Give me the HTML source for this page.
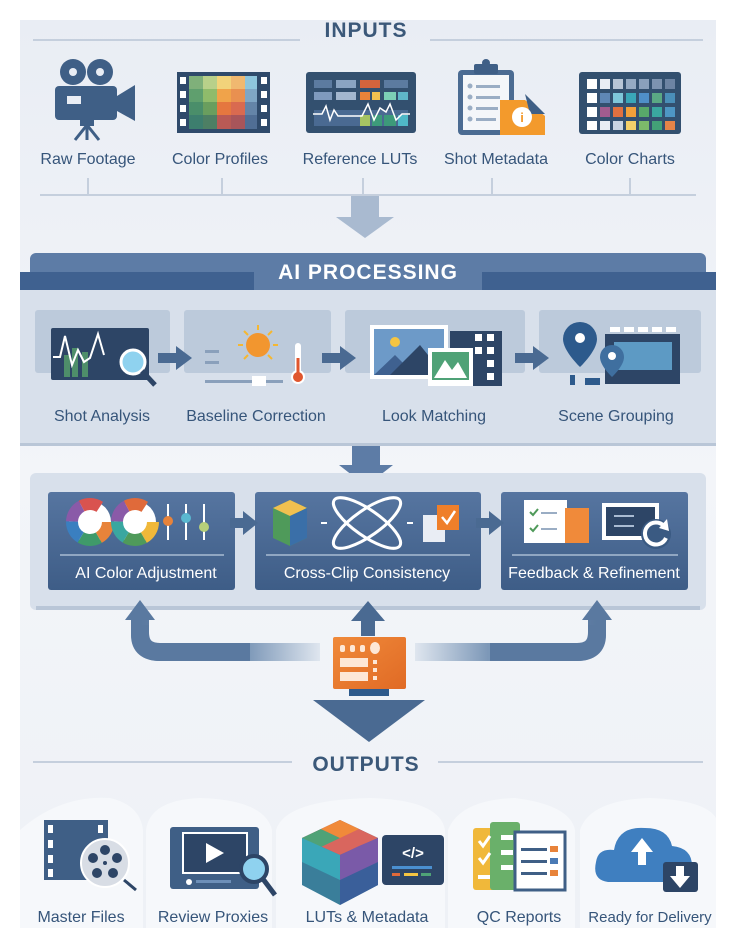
<!DOCTYPE html>
<html><head><meta charset="utf-8"><style>
html,body{margin:0;padding:0;background:#fff}
svg{display:block}
text{font-family:"Liberation Sans",sans-serif}
</style></head><body>
<svg width="736" height="947" viewBox="0 0 736 947" xmlns="http://www.w3.org/2000/svg">
<defs>
<linearGradient id="bg" x1="0" y1="0" x2="0" y2="1"><stop offset="0" stop-color="#e9edf4"/><stop offset=".5" stop-color="#f3f5f9"/><stop offset="1" stop-color="#eef1f6"/></linearGradient>
<linearGradient id="fadeL" x1="0" x2="1"><stop offset="0" stop-color="#5a79a0"/><stop offset=".6" stop-color="#7d98b8"/><stop offset="1" stop-color="#dfe6ef"/></linearGradient>
<linearGradient id="fadeR" x1="1" x2="0"><stop offset="0" stop-color="#5a79a0"/><stop offset=".6" stop-color="#7d98b8"/><stop offset="1" stop-color="#dfe6ef"/></linearGradient>
<linearGradient id="card" x1="0" y1="0" x2="0" y2="1"><stop offset="0" stop-color="#5675a0"/><stop offset="1" stop-color="#3e5d87"/></linearGradient>
<linearGradient id="orange" x1="0" y1="0" x2="1" y2="1"><stop offset="0" stop-color="#f08a3a"/><stop offset="1" stop-color="#e06a25"/></linearGradient>
</defs>
<rect x="20" y="20" width="696" height="908" fill="url(#bg)"/>

<!-- INPUTS -->
<line x1="33" y1="40" x2="300" y2="40" stroke="#c5cfdd" stroke-width="2"/>
<line x1="430" y1="40" x2="703" y2="40" stroke="#c5cfdd" stroke-width="2"/>
<text x="366" y="37" text-anchor="middle" font-size="21" font-weight="bold" fill="#3b5879" letter-spacing="1">INPUTS</text>

<!-- camera -->
<g fill="#3f5f86">
<circle cx="73" cy="72" r="13"/><circle cx="100" cy="72" r="13"/>
<rect x="55" y="86" width="62" height="34" rx="4"/>
<polygon points="117,96 135,85 135,121 117,111"/>
<rect x="80" y="120" width="14" height="6"/>
<line x1="87" y1="125" x2="75" y2="140" stroke="#3f5f86" stroke-width="3"/>
<line x1="87" y1="125" x2="99" y2="140" stroke="#3f5f86" stroke-width="3"/>
<line x1="87" y1="125" x2="87" y2="140" stroke="#3f5f86" stroke-width="3"/>
</g>
<circle cx="73" cy="72" r="4" fill="#e9edf4"/><circle cx="100" cy="72" r="4" fill="#e9edf4"/>
<rect x="67" y="96" width="14" height="8" fill="#e9edf4"/>
<!-- color profiles -->
<rect x="177" y="72" width="93" height="61" fill="#2f4a6b"/>
<g>
<rect x="189" y="76" width="14" height="13" fill="#7fb07a"/><rect x="203" y="76" width="14" height="13" fill="#b8d08a"/><rect x="217" y="76" width="14" height="13" fill="#f2d37a"/><rect x="231" y="76" width="14" height="13" fill="#f0b870"/><rect x="245" y="76" width="12" height="13" fill="#8ec5dc"/>
<rect x="189" y="89" width="14" height="13" fill="#5f9f6e"/><rect x="203" y="89" width="14" height="13" fill="#8fbb6b"/><rect x="217" y="89" width="14" height="13" fill="#f0a34a"/><rect x="231" y="89" width="14" height="13" fill="#e99050"/><rect x="245" y="89" width="12" height="13" fill="#7fa6c5"/>
<rect x="189" y="102" width="14" height="13" fill="#4a8e6a"/><rect x="203" y="102" width="14" height="13" fill="#6a9e5e"/><rect x="217" y="102" width="14" height="13" fill="#e5773f"/><rect x="231" y="102" width="14" height="13" fill="#d96a50"/><rect x="245" y="102" width="12" height="13" fill="#6484a8"/>
<rect x="189" y="115" width="14" height="14" fill="#3d7e6e"/><rect x="203" y="115" width="14" height="14" fill="#4d7f64"/><rect x="217" y="115" width="14" height="14" fill="#b85a55"/><rect x="231" y="115" width="14" height="14" fill="#a8555a"/><rect x="245" y="115" width="12" height="14" fill="#506e95"/>
</g>
<g fill="#fff"><rect x="180" y="77" width="6" height="7"/><rect x="180" y="91" width="6" height="7"/><rect x="180" y="105" width="6" height="7"/><rect x="180" y="119" width="6" height="7"/><rect x="261" y="77" width="6" height="7"/><rect x="261" y="91" width="6" height="7"/><rect x="261" y="105" width="6" height="7"/><rect x="261" y="119" width="6" height="7"/></g>
<!-- reference LUTs -->
<rect x="306" y="72" width="110" height="61" rx="3" fill="#33506f"/>
<g>
<rect x="314" y="80" width="18" height="8" fill="#5c7ba0"/><rect x="336" y="80" width="20" height="8" fill="#8aa4c2"/><rect x="360" y="80" width="20" height="8" fill="#d4643d"/><rect x="384" y="80" width="24" height="8" fill="#5c7ba0"/>
<rect x="314" y="92" width="18" height="8" fill="#7f9abd"/><rect x="336" y="92" width="20" height="8" fill="#a3b7cf"/><rect x="360" y="92" width="10" height="8" fill="#e8833a"/><rect x="372" y="92" width="8" height="8" fill="#f0c050"/><rect x="384" y="92" width="12" height="8" fill="#7ccfb6"/><rect x="398" y="92" width="10" height="8" fill="#5fb6c9"/>
<rect x="314" y="110" width="94" height="16" fill="#4a6a92"/><rect x="360" y="115" width="10" height="11" fill="#a5c463"/><rect x="372" y="115" width="10" height="11" fill="#3d9a7a"/><rect x="384" y="115" width="12" height="11" fill="#3d9a7a"/><rect x="398" y="115" width="10" height="11" fill="#4fb8c8"/>
</g>
<polyline points="313,114 322,114 326,106 330,120 334,110 338,116 362,116 368,104 374,120 380,108 386,112 390,104 396,120 402,114 410,114" fill="none" stroke="#fff" stroke-width="1.5"/>
<!-- shot metadata -->
<rect x="458" y="70" width="56" height="65" rx="4" fill="#4b6b92"/>
<rect x="463" y="75" width="46" height="55" fill="#f4f6f9"/>
<rect x="474" y="64" width="24" height="10" rx="2" fill="#3f5f86"/><circle cx="486" cy="63" r="4" fill="#3f5f86"/>
<g fill="#9aadc4"><circle cx="470" cy="86" r="2.5"/><circle cx="470" cy="97" r="2.5"/><circle cx="470" cy="108" r="2.5"/><circle cx="470" cy="119" r="2.5"/><rect x="476" y="85" width="24" height="3"/><rect x="476" y="96" width="24" height="3"/><rect x="476" y="107" width="22" height="3"/><rect x="476" y="118" width="20" height="3"/></g>
<polygon points="500,100 525,100 545,116 545,135 500,135" fill="#f39a2c"/>
<polygon points="525,94 545,114 530,114" fill="#3f5f86"/>
<circle cx="522" cy="117" r="10" fill="#fff"/>
<text x="522" y="122" text-anchor="middle" font-size="13" font-weight="bold" fill="#f39a2c">i</text>
<!-- color charts -->
<rect x="579" y="72" width="102" height="62" rx="3" fill="#33506f"/>
<g>
<rect x="587" y="79" width="10" height="10" fill="#fff"/><rect x="600" y="79" width="10" height="10" fill="#e9edf4"/><rect x="613" y="79" width="10" height="10" fill="#b7c5d6"/><rect x="626" y="79" width="10" height="10" fill="#95aac3"/><rect x="639" y="79" width="10" height="10" fill="#8aa0bb"/><rect x="652" y="79" width="10" height="10" fill="#7d93b0"/><rect x="665" y="79" width="10" height="10" fill="#6d84a3"/>
<rect x="587" y="93" width="10" height="10" fill="#fff"/><rect x="600" y="93" width="10" height="10" fill="#5f87b5"/><rect x="613" y="93" width="10" height="10" fill="#7fc7da"/><rect x="626" y="93" width="10" height="10" fill="#3aa7b8"/><rect x="639" y="93" width="10" height="10" fill="#4f8fc8"/><rect x="652" y="93" width="10" height="10" fill="#5aa884"/><rect x="665" y="93" width="10" height="10" fill="#4a8fb9"/>
<rect x="587" y="107" width="10" height="10" fill="#fff"/><rect x="600" y="107" width="10" height="10" fill="#a25c8f"/><rect x="613" y="107" width="10" height="10" fill="#e07140"/><rect x="626" y="107" width="10" height="10" fill="#f2a03a"/><rect x="639" y="107" width="10" height="10" fill="#58a86a"/><rect x="652" y="107" width="10" height="10" fill="#3aa7a0"/><rect x="665" y="107" width="10" height="10" fill="#4e96c4"/>
<rect x="587" y="121" width="10" height="9" fill="#fff"/><rect x="600" y="121" width="10" height="9" fill="#e9edf4"/><rect x="613" y="121" width="10" height="9" fill="#c9d4e2"/><rect x="626" y="121" width="10" height="9" fill="#f3d06a"/><rect x="639" y="121" width="10" height="9" fill="#7cb96a"/><rect x="652" y="121" width="10" height="9" fill="#43a177"/><rect x="665" y="121" width="10" height="9" fill="#e58448"/>
</g>
<g font-size="16" fill="#36557a" text-anchor="middle">
<text x="88" y="164">Raw Footage</text><text x="220" y="164">Color Profiles</text><text x="360" y="164">Reference LUTs</text><text x="496" y="164">Shot Metadata</text><text x="630" y="164">Color Charts</text>
</g>
<g stroke="#c5cfdd" stroke-width="2"><line x1="40" y1="195" x2="696" y2="195"/><line x1="88" y1="178" x2="88" y2="195"/><line x1="222" y1="178" x2="222" y2="195"/><line x1="363" y1="178" x2="363" y2="195"/><line x1="492" y1="178" x2="492" y2="195"/><line x1="630" y1="178" x2="630" y2="195"/></g>
<polygon points="351,196 379,196 379,217 394,217 365,238 336,217 351,217" fill="#a9bad0"/>

<!-- AI PROCESSING -->
<rect x="30" y="253" width="676" height="30" rx="6" fill="#5d7ca6"/>
<rect x="20" y="272" width="696" height="18" fill="#3f6190"/>
<rect x="254" y="262" width="228" height="28" fill="#5d7ca6"/>
<text x="368" y="279" text-anchor="middle" font-size="21" font-weight="bold" fill="#fff" letter-spacing="1">AI PROCESSING</text>
<rect x="20" y="290" width="696" height="155" fill="#d8e0eb"/>
<rect x="20" y="443" width="696" height="3" fill="#b9c6d7"/>
<g fill="#bccadb">
<rect x="35" y="310" width="135" height="63" rx="3"/><rect x="184" y="310" width="147" height="63" rx="3"/><rect x="345" y="310" width="180" height="63" rx="3"/><rect x="539" y="310" width="162" height="63" rx="3"/>
</g>
<!-- shot analysis icon -->
<rect x="51" y="328" width="98" height="52" rx="2" fill="#2d4566"/>
<rect x="64" y="355" width="6" height="22" fill="#4e8e6a"/><rect x="72" y="348" width="6" height="29" fill="#4e8e6a"/><rect x="82" y="352" width="6" height="25" fill="#4e8e6a"/>
<polyline points="53,357 60,357 65,336 72,365 78,350 84,362 90,358 98,334 104,355" fill="none" stroke="#fff" stroke-width="2"/>
<circle cx="133" cy="362" r="12" fill="#8fd2ef" stroke="#fff" stroke-width="3"/>
<line x1="142" y1="371" x2="155" y2="385" stroke="#2d4566" stroke-width="5"/>
<!-- baseline -->
<circle cx="258" cy="345" r="12" fill="#f2962f"/>
<g stroke="#f5b731" stroke-width="2"><line x1="258" y1="325" x2="258" y2="330"/><line x1="238" y1="345" x2="243" y2="345"/><line x1="273" y1="345" x2="278" y2="345"/><line x1="244" y1="331" x2="248" y2="335"/><line x1="272" y1="331" x2="268" y2="335"/><line x1="244" y1="359" x2="248" y2="355"/><line x1="272" y1="359" x2="268" y2="355"/></g>
<g fill="#8aa0bb"><rect x="205" y="350" width="14" height="3"/><rect x="205" y="361" width="14" height="3"/><rect x="205" y="380" width="78" height="3"/></g>
<rect x="252" y="376" width="14" height="10" fill="#fff"/>
<rect x="295" y="343" width="6" height="30" rx="3" fill="#fff"/><circle cx="298" cy="377" r="7" fill="#fff"/><circle cx="298" cy="377" r="5" fill="#e0562e"/><rect x="296.5" y="358" width="3" height="18" fill="#e0562e"/>
<!-- look matching -->
<rect x="450" y="331" width="52" height="55" fill="#2d4566"/>
<g fill="#fff"><rect x="475" y="334" width="7" height="7"/><rect x="487" y="334" width="7" height="7"/><rect x="475" y="347" width="7" height="7"/><rect x="487" y="347" width="7" height="7"/><rect x="487" y="360" width="7" height="7"/><rect x="487" y="373" width="7" height="7"/></g>
<rect x="370" y="325" width="78" height="54" fill="#fff"/>
<rect x="374" y="329" width="70" height="46" fill="#6d9ac8"/>
<polygon points="374,375 395,355 415,375" fill="#3f6190"/><polygon points="390,375 420,345 444,375" fill="#2d4566"/>
<circle cx="395" cy="342" r="5" fill="#f5c542"/>
<rect x="428" y="348" width="45" height="38" fill="#fff"/>
<rect x="432" y="352" width="37" height="28" fill="#4fa277"/>
<polygon points="434,378 445,360 452,370 458,362 467,378" fill="#fff"/>
<!-- scene grouping -->
<rect x="605" y="334" width="75" height="50" fill="#2d4566"/>
<rect x="614" y="342" width="58" height="28" fill="#5d9ac4"/>
<g fill="#fff"><rect x="610" y="327" width="10" height="5"/><rect x="624" y="327" width="10" height="5"/><rect x="638" y="327" width="10" height="5"/><rect x="652" y="327" width="10" height="5"/><rect x="666" y="327" width="10" height="5"/></g>
<path d="M580 322 a17 17 0 0 1 17 17 c0 12 -17 28 -17 28 c0 0 -17 -16 -17 -28 a17 17 0 0 1 17 -17z" fill="#2d5a8c"/>
<circle cx="580" cy="338" r="5" fill="#fff"/>
<path d="M612 345 a12 12 0 0 1 12 12 c0 9 -12 20 -12 20 c0 0 -12 -11 -12 -20 a12 12 0 0 1 12 -12z" fill="#3f6f9f"/>
<circle cx="612" cy="356" r="4" fill="#fff"/>
<g fill="#2d5a8c"><rect x="570" y="375" width="5" height="10"/><rect x="585" y="378" width="15" height="7"/></g>
<!-- arrows row 1 -->
<g fill="#4a6a92">
<polygon points="158,353 176,353 176,346 192,358 176,370 176,363 158,363"/>
<polygon points="322,353 340,353 340,346 356,358 340,370 340,363 322,363"/>
<polygon points="515,353 533,353 533,346 549,358 533,370 533,363 515,363"/>
</g>
<g font-size="16" fill="#36557a" text-anchor="middle">
<text x="102" y="421">Shot Analysis</text><text x="256" y="421">Baseline Correction</text><text x="434" y="421">Look Matching</text><text x="616" y="421">Scene Grouping</text>
</g>
<polygon points="352,446 380,446 380,465 393,465 366,486 339,465 352,465" fill="#5d7ca6"/>

<!-- second panel -->
<rect x="30" y="473" width="676" height="137" rx="6" fill="#d8e0eb"/>
<rect x="36" y="606" width="664" height="4" fill="#b9c6d7"/>
<rect x="48" y="492" width="187" height="98" rx="3" fill="url(#card)"/>
<rect x="255" y="492" width="226" height="98" rx="3" fill="url(#card)"/>
<rect x="501" y="492" width="187" height="98" rx="3" fill="url(#card)"/>
<g stroke="#a9bbd2" stroke-width="1.5"><line x1="60" y1="555" x2="224" y2="555"/><line x1="266" y1="555" x2="470" y2="555"/><line x1="512" y1="555" x2="678" y2="555"/></g>
<g font-size="16" fill="#fff" text-anchor="middle">
<text x="146" y="578">AI Color Adjustment</text><text x="367" y="578">Cross-Clip Consistency</text><text x="594" y="578">Feedback &amp; Refinement</text>
</g>
<!-- color wheels -->
<g>
<circle cx="90" cy="522" r="21" fill="#fff"/>
<circle cx="90" cy="522" r="18" fill="none" stroke="#e8833a" stroke-width="12" stroke-dasharray="19 95"/>
<circle cx="90" cy="522" r="18" fill="none" stroke="#3f9a6a" stroke-width="12" stroke-dasharray="0 19 19 95"/>
<circle cx="90" cy="522" r="18" fill="none" stroke="#3a7fc0" stroke-width="12" stroke-dasharray="0 38 19 95"/>
<circle cx="90" cy="522" r="18" fill="none" stroke="#8a5aa8" stroke-width="12" stroke-dasharray="0 57 19 95"/>
<circle cx="90" cy="522" r="18" fill="none" stroke="#d9534f" stroke-width="12" stroke-dasharray="0 76 19 95"/>
<circle cx="90" cy="522" r="5" fill="#fff"/>
<circle cx="135" cy="522" r="21" fill="#fff"/>
<circle cx="135" cy="522" r="18" fill="none" stroke="#f0b83a" stroke-width="12" stroke-dasharray="19 95"/>
<circle cx="135" cy="522" r="18" fill="none" stroke="#4f9a5a" stroke-width="12" stroke-dasharray="0 19 19 95"/>
<circle cx="135" cy="522" r="18" fill="none" stroke="#3aa7a0" stroke-width="12" stroke-dasharray="0 38 19 95"/>
<circle cx="135" cy="522" r="18" fill="none" stroke="#8a5aa8" stroke-width="12" stroke-dasharray="0 57 19 95"/>
<circle cx="135" cy="522" r="18" fill="none" stroke="#e06a3a" stroke-width="12" stroke-dasharray="0 76 19 95"/>
<circle cx="135" cy="522" r="5" fill="#fff"/>
<g stroke="#fff" stroke-width="2"><line x1="168" y1="504" x2="168" y2="540"/><line x1="186" y1="504" x2="186" y2="540"/><line x1="204" y1="504" x2="204" y2="540"/></g>
<circle cx="168" cy="521" r="5" fill="#e8833a"/><circle cx="186" cy="518" r="5" fill="#5ab8d0"/><circle cx="204" cy="527" r="5" fill="#b7d07a"/>
</g>
<!-- cross clip -->
<polygon points="273,508 290,500 307,508 307,538 290,546 273,538" fill="#4f9a5a"/>
<polygon points="273,508 290,500 307,508 290,516" fill="#f0c050"/>
<polygon points="290,516 307,508 307,538 290,546" fill="#3a6fa8"/>
<g stroke="#fff" stroke-width="2"><line x1="321" y1="523" x2="327" y2="523"/><line x1="407" y1="523" x2="413" y2="523"/></g>
<ellipse cx="367" cy="523" rx="40" ry="13" transform="rotate(35 367 523)" fill="none" stroke="#fff" stroke-width="3"/>
<ellipse cx="367" cy="523" rx="40" ry="13" transform="rotate(-35 367 523)" fill="none" stroke="#fff" stroke-width="3"/>
<rect x="423" y="515" width="22" height="27" fill="#e9edf4"/>
<rect x="437" y="505" width="22" height="25" fill="#ef7f2a"/>
<polyline points="442,517 447,523 455,511" fill="none" stroke="#fff" stroke-width="2.5"/>
<!-- feedback -->
<rect x="524" y="500" width="43" height="43" fill="#fff"/>
<rect x="565" y="508" width="24" height="35" fill="#f08a3a"/>
<g stroke="#4f9a5a" stroke-width="2" fill="none"><polyline points="530,512 533,515 538,509"/><polyline points="530,528 533,531 538,525"/></g>
<g fill="#9aadc4"><rect x="541" y="512" width="16" height="2"/><rect x="541" y="528" width="16" height="2"/></g>
<rect x="602" y="503" width="57" height="37" fill="#fff"/><rect x="606" y="507" width="49" height="29" fill="#2d4566"/>
<g fill="#a9bbd2"><rect x="614" y="515" width="20" height="2"/><rect x="614" y="525" width="20" height="2"/></g>
<circle cx="656" cy="534" r="15" fill="#3a5a82"/>
<path d="M664 526 a11 11 0 1 0 2 12" fill="none" stroke="#fff" stroke-width="4"/>
<polygon points="667,519 669,531 659,528" fill="#fff"/>
<!-- arrows row 2 -->
<g fill="#4a6a92">
<polygon points="230,518 243,518 243,511 258,523 243,535 243,528 230,528"/>
<polygon points="476,518 489,518 489,511 504,523 489,535 489,528 476,528"/>
</g>

<!-- feedback loop -->
<path d="M140 618 L140 632 Q140 652 160 652 L320 652" fill="none" stroke="url(#fadeL)" stroke-width="18"/>
<path d="M597 618 L597 632 Q597 652 577 652 L415 652" fill="none" stroke="url(#fadeR)" stroke-width="18"/>
<path d="M140 625 L140 635 Q140 652 160 652 L250 652" fill="none" stroke="#5a79a0" stroke-width="18"/>
<path d="M597 625 L597 635 Q597 652 577 652 L490 652" fill="none" stroke="#5a79a0" stroke-width="18"/>
<polygon points="125,620 140,600 155,620" fill="#5a79a0"/>
<polygon points="582,620 597,600 612,620" fill="#5a79a0"/>
<polygon points="351,621 368,601 385,621 375,621 375,636 361,636 361,621" fill="#4a6a92"/>
<rect x="334" y="733" width="0" height="0"/>
<rect x="349" y="686" width="40" height="10" fill="#2d5a8c"/>
<polygon points="313,700 425,700 369,742" fill="#4a6a92"/>
<rect x="333" y="637" width="73" height="52" rx="2" fill="url(#orange)"/>
<g fill="#fde7d6"><rect x="340" y="645" width="5" height="7" rx="2"/><rect x="350" y="645" width="5" height="7" rx="2"/><rect x="360" y="645" width="5" height="7" rx="2"/><ellipse cx="375" cy="648" rx="5" ry="6"/><rect x="340" y="658" width="28" height="9"/><rect x="340" y="672" width="28" height="9"/><rect x="373" y="660" width="4" height="4"/><rect x="373" y="668" width="4" height="4"/><rect x="373" y="676" width="4" height="4"/></g>

<!-- OUTPUTS -->
<line x1="33" y1="762" x2="292" y2="762" stroke="#c5cfdd" stroke-width="2"/>
<line x1="438" y1="762" x2="703" y2="762" stroke="#c5cfdd" stroke-width="2"/>
<text x="366" y="771" text-anchor="middle" font-size="21" font-weight="bold" fill="#3b5879" letter-spacing="1">OUTPUTS</text>
<g fill="#f6f8fb">
<path d="M20 928 L20 830 Q60 795 110 798 Q140 805 143 830 L143 928z"/>
<path d="M146 928 L146 830 Q150 800 200 798 Q265 800 272 830 L272 928z"/>
<path d="M276 928 L276 830 Q285 800 370 798 Q440 800 445 830 L445 928z"/>
<path d="M448 928 L448 830 Q460 800 515 798 Q570 805 575 830 L575 928z"/>
<path d="M580 928 L580 830 Q590 800 650 798 Q705 800 716 818 L716 928z"/>
</g>
<!-- master files -->
<rect x="44" y="820" width="64" height="60" fill="#3f5f86"/>
<g fill="#fff"><rect x="48" y="825" width="5" height="8"/><rect x="48" y="840" width="5" height="8"/><rect x="48" y="855" width="5" height="8"/><rect x="48" y="869" width="5" height="8"/><rect x="98" y="825" width="5" height="8"/></g>
<circle cx="105" cy="863" r="24" fill="#d8dde5" stroke="#fff" stroke-width="2"/>
<g fill="#2d4566"><circle cx="105" cy="850" r="5"/><circle cx="93" cy="858" r="5"/><circle cx="117" cy="858" r="5"/><circle cx="97" cy="873" r="5"/><circle cx="113" cy="873" r="5"/><circle cx="105" cy="863" r="2"/></g>
<line x1="124" y1="880" x2="136" y2="890" stroke="#2d4566" stroke-width="3"/>
<!-- review proxies -->
<rect x="170" y="827" width="89" height="62" rx="3" fill="#3f5f86"/>
<rect x="183" y="833" width="64" height="40" fill="#2d4566" stroke="#fff" stroke-width="2"/>
<polygon points="206,843 206,863 224,853" fill="#fff"/>
<circle cx="189" cy="882" r="3" fill="#fff"/><rect x="196" y="880" width="35" height="3" fill="#6d8fb8"/>
<circle cx="254" cy="869" r="13" fill="#8fd2ef" stroke="#2d4566" stroke-width="4"/>
<line x1="263" y1="879" x2="275" y2="895" stroke="#2d4566" stroke-width="5"/>
<!-- LUTs -->
<polygon points="302,838 340,820 378,838 378,885 340,905 302,885" fill="#3a7e9a"/>
<polygon points="302,838 340,820 378,838 340,855" fill="#d9665e"/>
<polygon points="302,838 321,829 340,838 321,847" fill="#4fa277"/>
<polygon points="321,829 340,820 359,829 340,838" fill="#f08a3a"/>
<polygon points="340,855 378,838 378,885 340,905" fill="#3a5f9a"/>
<polygon points="340,855 359,846 378,838 378,862 340,880" fill="#7a5aa8"/>
<polygon points="302,838 340,855 340,880 302,862" fill="#3aa7b8"/>
<rect x="382" y="835" width="62" height="50" rx="4" fill="#2d4566"/>
<text x="413" y="858" text-anchor="middle" font-size="15" font-weight="bold" fill="#fff">&lt;/&gt;</text>
<rect x="392" y="866" width="40" height="3" fill="#4a8fd0"/>
<rect x="392" y="873" width="8" height="3" fill="#e06a3a"/><rect x="404" y="873" width="14" height="3" fill="#f5c542"/><rect x="421" y="873" width="10" height="3" fill="#4fa277"/>
<!-- QC reports -->
<rect x="473" y="828" width="35" height="62" rx="3" fill="#f0b83a"/>
<rect x="490" y="822" width="30" height="68" rx="3" fill="#6ab06a"/>
<rect x="515" y="832" width="50" height="58" fill="#fff" stroke="#3f5f86" stroke-width="3"/>
<g stroke="#fff" stroke-width="3" fill="none"><polyline points="479,841 483,846 490,836"/><polyline points="479,858 483,863 490,853"/></g>
<g fill="#fff"><rect x="501" y="835" width="12" height="5"/><rect x="501" y="850" width="12" height="5"/><rect x="501" y="865" width="12" height="5"/><rect x="478" y="875" width="12" height="4"/></g>
<g fill="#3f5f86"><rect x="521" y="848" width="26" height="3"/><rect x="521" y="860" width="26" height="3"/><rect x="521" y="872" width="26" height="3"/></g>
<g fill="#e8833a"><rect x="550" y="846" width="8" height="6"/><rect x="550" y="870" width="8" height="6"/></g><rect x="550" y="858" width="8" height="6" fill="#4a7ab5"/>
<!-- cloud -->
<path d="M608 882 Q592 880 596 862 Q598 848 614 850 Q618 826 645 828 Q668 828 672 846 Q692 848 692 866 Q692 882 676 882z" fill="#3f7fc0"/>
<polygon points="642,838 631,852 638,852 638,865 646,865 646,852 653,852" fill="#fff"/>
<rect x="663" y="862" width="35" height="30" rx="3" fill="#2d4566"/>
<polygon points="676,866 684,866 684,876 690,876 680,888 670,876 676,876" fill="#fff"/>
<g font-size="16" fill="#36557a" text-anchor="middle">
<text x="81" y="922">Master Files</text><text x="213" y="922">Review Proxies</text><text x="367" y="922">LUTs &amp; Metadata</text><text x="519" y="922">QC Reports</text><text x="650" y="922" font-size="15">Ready for Delivery</text>
</g>
</svg>
</body></html>
